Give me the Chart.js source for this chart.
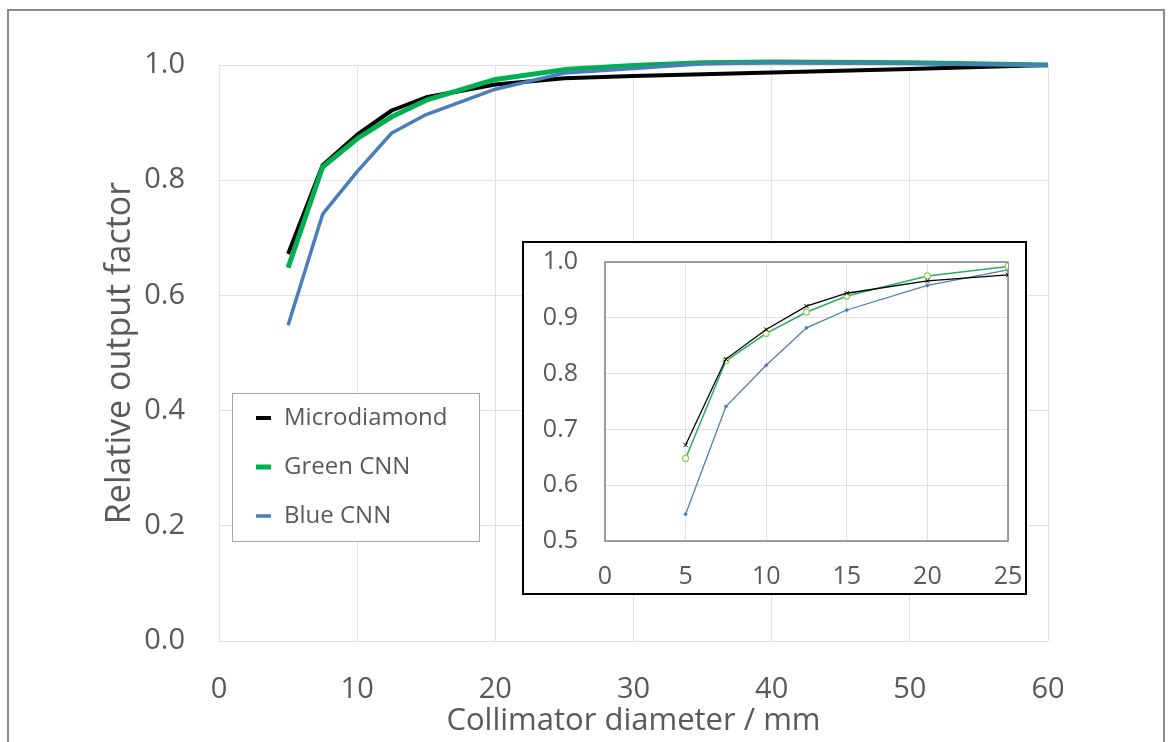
<!DOCTYPE html>
<html>
<head>
    <title>Relative output factor</title>
    <script src="https://cdn.jsdelivr.net/npm/chart.js"></script>
    <style>
        body { margin: 0; background: #fff; }
        #wrap { position: relative; width: 1172px; height: 742px; overflow: hidden; }
        #frame { position: absolute; left: 7px; top: 9px; width: 1158px; height: 800px; border: 2px solid #8a8a8a; box-sizing: border-box; }
        #main { position: absolute; left: 0; top: 0; }
        #insetBox { position: absolute; left: 522px; top: 241px; width: 505px; height: 354px; border: 2px solid #000; box-sizing: border-box; background: #fff; }
        canvas { display: block; }
    </style>
</head>
<body>
<div id="wrap">
    <div id="frame"></div>
    <canvas id="main" width="1172" height="742"></canvas>
    <div id="insetBox"><canvas id="inset" width="501" height="350"></canvas></div>
</div>

<script>
    // collimator diameters (mm) and relative output factors
    const diameters = [5, 7.5, 10, 12.5, 15, 20, 25, 30, 35, 40, 50, 60];
    const microdiamond = [0.672, 0.826, 0.879, 0.921, 0.944, 0.966, 0.977, 0.981, 0.984, 0.987, 0.993, 1.000];
    const greenCnn = [0.648, 0.823, 0.872, 0.910, 0.939, 0.975, 0.992, 0.999, 1.004, 1.005, 1.004, 1.000];
    const blueCnn = [0.548, 0.741, 0.815, 0.882, 0.914, 0.958, 0.986, 0.994, 1.002, 1.004, 1.003, 1.000];
    const seriesNames = ['Microdiamond', 'Green CNN', 'Blue CNN'];
    const insetMaxDiameter = 25;

    const textGrey = '#595959';
    const gridGrey = '#e2e2e2';
    const fontName = "'Open Sans', sans-serif";

    function pts(values, maxX) {
        return diameters.map((x, i) => ({ x: x, y: values[i] }))
            .filter(p => maxX === undefined || p.x <= maxX);
    }

    // fixed axis sizes; drop the label overflow padding so the plot box stays put
    function fixHeight(h) {
        return s => { s.height = h; s.paddingLeft = 0; s.paddingRight = 0; };
    }
    function fixWidth(w) {
        return s => { s.width = w; s.paddingTop = 0; s.paddingBottom = 0; };
    }

    // legend box drawn inside the plot like the original
    const boxLegend = {
        id: 'boxLegend',
        afterDraw(chart) {
            const ctx = chart.ctx;
            const left = 232, top = 393, w = 247, h = 148;
            ctx.save();
            ctx.fillStyle = '#fff';
            ctx.fillRect(left, top, w, h);
            ctx.strokeStyle = '#a6a6a6';
            ctx.lineWidth = 1;
            ctx.strokeRect(left + 0.5, top + 0.5, w, h);
            ctx.font = "24px " + fontName;
            ctx.textBaseline = 'middle';
            chart.data.datasets.forEach((ds, i) => {
                const y = 418 + i * 49;
                ctx.strokeStyle = ds.borderColor;
                ctx.lineWidth = ds.borderWidth;
                ctx.beginPath();
                ctx.moveTo(256, y);
                ctx.lineTo(271, y);
                ctx.stroke();
                ctx.fillStyle = textGrey;
                ctx.fillText(ds.label, 284, y);
            });
            ctx.restore();
        }
    };

    const plotFrame = {
        id: 'plotFrame',
        beforeDatasetsDraw(chart) {
            const a = chart.chartArea;
            const ctx = chart.ctx;
            ctx.save();
            ctx.strokeStyle = '#808080';
            ctx.lineWidth = 1.5;
            ctx.strokeRect(a.left, a.top, a.right - a.left, a.bottom - a.top);
            ctx.restore();
        }
    };

    new Chart(document.getElementById('main'), {
        type: 'line',
        data: {
            datasets: [
                { label: seriesNames[0], data: pts(microdiamond), borderColor: '#000000', borderWidth: 4, order: 3, clip: false },
                { label: seriesNames[1], data: pts(greenCnn), borderColor: '#00B050', borderWidth: 5, order: 2, clip: false },
                { label: seriesNames[2], data: pts(blueCnn), borderColor: '#4A7EBB', borderWidth: 3.5, order: 1, clip: false }
            ]
        },
        plugins: [boxLegend],
        options: {
            responsive: false,
            animation: false,
            layout: { padding: { left: 100, right: 124, top: 65, bottom: 0 } },
            elements: { point: { radius: 0 }, line: { tension: 0, borderJoinStyle: 'round' } },
            plugins: { legend: { display: false }, tooltip: { enabled: false } },
            scales: {
                x: {
                    type: 'linear', min: 0, max: 60,
                    ticks: { stepSize: 10, color: textGrey, font: { family: fontName, size: 29 }, padding: 31 },
                    grid: { color: gridGrey, drawTicks: false },
                    border: { display: false },
                    title: { display: true, text: 'Collimator diameter / mm', color: textGrey,
                             font: { family: fontName, size: 31 }, padding: { top: 0, bottom: 2 } },
                    afterFit: fixHeight(101)
                },
                y: {
                    type: 'linear', min: 0, max: 1,
                    ticks: { stepSize: 0.2, color: textGrey, font: { family: fontName, size: 29 }, padding: 34,
                             callback: v => v.toFixed(1) },
                    grid: { color: gridGrey, drawTicks: false },
                    border: { display: false },
                    title: { display: true, text: 'Relative output factor', color: textGrey,
                             font: { family: fontName, size: 34 }, padding: { top: 0, bottom: 0 } },
                    afterFit: fixWidth(119)
                }
            }
        }
    });

    new Chart(document.getElementById('inset'), {
        type: 'line',
        data: {
            datasets: [
                { label: seriesNames[0], data: pts(microdiamond, insetMaxDiameter), borderColor: '#000000', borderWidth: 1.3,
                  pointStyle: 'crossRot', pointRadius: 3, pointBorderWidth: 1, pointBorderColor: '#000' },
                { label: seriesNames[1], data: pts(greenCnn, insetMaxDiameter), borderColor: '#2BAE5E', borderWidth: 1.5,
                  pointStyle: 'circle', pointRadius: 3, pointBorderWidth: 1.2, pointBorderColor: '#92D050', pointBackgroundColor: '#fff' },
                { label: seriesNames[2], data: pts(blueCnn, insetMaxDiameter), borderColor: '#4A7EBB', borderWidth: 1.3,
                  pointStyle: 'rectRot', pointRadius: 2.2, pointBorderWidth: 0, pointBackgroundColor: '#4A7EBB' }
            ]
        },
        plugins: [plotFrame],
        options: {
            responsive: false,
            animation: false,
            layout: { padding: { left: 0, right: 17, top: 19, bottom: 0 } },
            elements: { line: { tension: 0 } },
            plugins: { legend: { display: false }, tooltip: { enabled: false } },
            scales: {
                x: {
                    type: 'linear', min: 0, max: 25,
                    ticks: { stepSize: 5, color: textGrey, font: { family: fontName, size: 25 }, padding: 21 },
                    grid: { color: gridGrey, drawTicks: false },
                    border: { display: false },
                    afterFit: fixHeight(52)
                },
                y: {
                    type: 'linear', min: 0.5, max: 1.0,
                    ticks: { stepSize: 0.1, color: textGrey, font: { family: fontName, size: 25 }, padding: 27,
                             callback: v => v.toFixed(1) },
                    grid: { color: gridGrey, drawTicks: false },
                    border: { display: false },
                    afterFit: fixWidth(81)
                }
            }
        }
    });
</script>
</body>
</html>
